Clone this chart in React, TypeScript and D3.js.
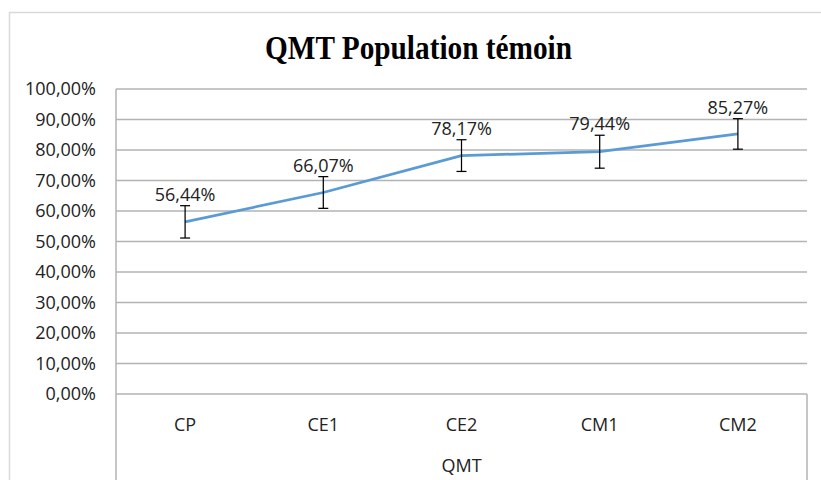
import { useRef, useEffect } from 'react'
import * as d3 from 'd3'

const categories = ['CP', 'CE1', 'CE2', 'CM1', 'CM2']
const values = [0.5644, 0.6607, 0.7817, 0.7944, 0.8527]
const errors = [0.053, 0.052, 0.052, 0.054, 0.05]
const yTicks = [0, 0.1, 0.2, 0.3, 0.4, 0.5, 0.6, 0.7, 0.8, 0.9, 1]
const axisTitle = 'QMT'
const chartTitle = 'QMT Population témoin'

const fmt = (v: number) => (v * 100).toFixed(2).replace('.', ',') + '%'

export default function App() {
  const svgRef = useRef<SVGSVGElement>(null)

  useEffect(() => {
    if (!svgRef.current) return
    const width = 821
    const height = 480
    const svg = d3.select(svgRef.current)
    svg.selectAll('*').remove()
    svg.attr('width', width).attr('height', height)

    const font = "'Open Sans', sans-serif"
    const textColor = '#222'
    const gridColor = '#b3b3b3'

    // outer chart border
    svg.append('rect')
      .attr('x', 9.5).attr('y', 12.5)
      .attr('width', width + 10).attr('height', height + 10)
      .attr('fill', '#fff')
      .attr('stroke', '#d9d9d9')
      .attr('stroke-width', 1.5)

    svg.append('text')
      .attr('x', 418.5).attr('y', 59)
      .attr('text-anchor', 'middle')
      .attr('font-family', "'Liberation Serif', 'Times New Roman', serif")
      .attr('font-weight', 'bold')
      .attr('font-size', 34)
      .attr('textLength', 307)
      .attr('lengthAdjust', 'spacingAndGlyphs')
      .attr('fill', '#000')
      .text(chartTitle)

    const left = 116
    const right = 807
    const x = d3.scaleBand<string>().domain(categories).range([left, right]).padding(0)
    const y = d3.scaleLinear().domain([0, 1]).range([394, 89])

    // gridlines
    svg.append('g')
      .selectAll('line')
      .data(yTicks)
      .join('line')
      .attr('x1', left).attr('x2', right)
      .attr('y1', d => y(d)).attr('y2', d => y(d))
      .attr('stroke', gridColor)
      .attr('stroke-width', 1.5)

    // y labels
    svg.append('g')
      .selectAll('text')
      .data(yTicks)
      .join('text')
      .attr('x', 96)
      .attr('y', d => y(d) + 6)
      .attr('text-anchor', 'end')
      .attr('font-family', font)
      .attr('font-size', 18)
      .attr('fill', textColor)
      .text(d => fmt(d))

    // axis box lines
    svg.append('line')
      .attr('x1', left).attr('x2', left)
      .attr('y1', y(1)).attr('y2', height)
      .attr('stroke', gridColor).attr('stroke-width', 1.5)
    svg.append('line')
      .attr('x1', right).attr('x2', right)
      .attr('y1', y(0)).attr('y2', height)
      .attr('stroke', gridColor).attr('stroke-width', 1.5)

    // category labels
    svg.append('g')
      .selectAll('text')
      .data(categories)
      .join('text')
      .attr('x', d => x(d)! + x.bandwidth() / 2)
      .attr('y', 431)
      .attr('text-anchor', 'middle')
      .attr('font-family', font)
      .attr('font-size', 18)
      .attr('fill', textColor)
      .text(d => d)

    svg.append('text')
      .attr('x', (left + right) / 2)
      .attr('y', 472)
      .attr('text-anchor', 'middle')
      .attr('font-family', font)
      .attr('font-size', 18)
      .attr('fill', textColor)
      .text(axisTitle)

    const cx = (i: number) => x(categories[i])! + x.bandwidth() / 2

    // line
    const line = d3.line<number>().x((_, i) => cx(i)).y(d => y(d))
    svg.append('path')
      .datum(values)
      .attr('d', line)
      .attr('fill', 'none')
      .attr('stroke', '#5b9bd5')
      .attr('stroke-width', 2.75)
      .attr('stroke-linejoin', 'round')

    // error bars
    const eb = svg.append('g').attr('stroke', '#000').attr('stroke-width', 1.25)
    values.forEach((v, i) => {
      const c = cx(i)
      const top = y(v + errors[i])
      const bot = y(v - errors[i])
      eb.append('line').attr('x1', c).attr('x2', c).attr('y1', top).attr('y2', bot)
      eb.append('line').attr('x1', c - 5).attr('x2', c + 5).attr('y1', top).attr('y2', top)
      eb.append('line').attr('x1', c - 5).attr('x2', c + 5).attr('y1', bot).attr('y2', bot)
    })

    // data labels
    svg.append('g')
      .selectAll('text')
      .data(values)
      .join('text')
      .attr('x', (_, i) => cx(i))
      .attr('y', (d, i) => y(d + errors[i]) - 5)
      .attr('text-anchor', 'middle')
      .attr('font-family', font)
      .attr('font-size', 18)
      .attr('fill', textColor)
      .text(d => fmt(d))
  }, [])

  return <svg ref={svgRef} style={{ position: 'absolute', left: 0, top: 0 }} />
}
